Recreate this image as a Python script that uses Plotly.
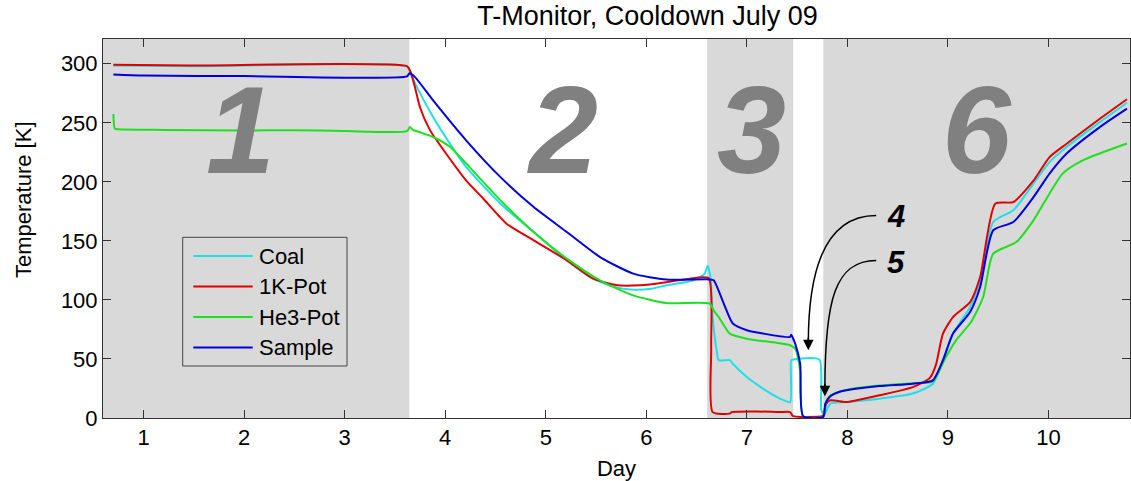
import plotly.graph_objects as go

# ---- measured temperatures (day, kelvin) ----
coal_day = [0.70, 1.50, 3.62, 3.65, 3.72, 3.88, 4.05, 4.21, 4.55, 4.88, 5.21, 5.47, 5.71, 5.87,
            6.05, 6.20, 6.47, 6.58, 6.61, 6.64, 6.66, 6.70, 6.72, 6.83, 6.86, 7.00, 7.16, 7.33,
            7.43, 7.44, 7.46, 7.72, 7.74, 7.77, 7.83, 7.99, 8.32, 8.65, 8.85, 8.95, 9.05, 9.22,
            9.32, 9.45, 9.65, 9.85, 10.01, 10.18, 10.51, 10.78]
coal_temp = [298.5, 298.0, 297.8, 293.0, 280.0, 255.0, 232.0, 212.5, 181.5, 157.5, 133.5, 118.0,
             110.4, 108.7, 109.5, 112.4, 116.6, 122.0, 129.0, 118.0, 85.0, 57.0, 49.0, 49.0, 46.0,
             34.7, 24.9, 16.4, 13.5, 48.9, 49.5, 49.5, 6.5, 3.0, 12.2, 13.5, 16.4, 20.7, 29.0,
             48.9, 71.5, 94.0, 116.6, 166.0, 175.9, 198.5, 216.8, 229.5, 250.6, 267.0]

pot1k_day = [0.70, 1.46, 3.62, 3.65, 3.70, 3.75, 3.85, 3.95, 4.21, 4.38, 4.61, 4.88, 5.21, 5.47,
             5.71, 5.94, 6.20, 6.43, 6.62, 6.645, 6.66, 6.83, 6.85, 7.10, 7.33, 7.43, 7.46, 7.75,
             7.76, 7.79, 7.83, 7.99, 8.09, 8.32, 8.65, 8.82, 8.88, 8.95, 9.05, 9.22, 9.32, 9.47,
             9.65, 9.85, 10.01, 10.18, 10.51, 10.78]
pot1k_temp = [299.2, 298.6, 298.0, 294.4, 280.0, 263.0, 243.6, 231.0, 201.0, 185.7, 164.6, 150.5,
              133.5, 118.0, 112.4, 112.4, 115.0, 118.0, 118.5, 60.0, 5.0, 3.7, 5.0, 5.5, 5.0, 5.0,
              1.5, 1.5, 2.3, 12.2, 15.0, 13.5, 15.0, 19.2, 26.2, 34.0, 45.0, 71.5, 85.5, 98.2,
              119.4, 181.5, 182.9, 201.0, 221.0, 232.3, 253.5, 270.0]

he3_day = [0.70, 0.715, 0.75, 1.20, 2.00, 2.50, 3.00, 3.62, 3.65, 3.68, 3.75, 3.88, 4.05, 4.21,
           4.55, 4.88, 5.21, 5.54, 5.87, 6.20, 6.63, 6.67, 6.73, 6.83, 7.00, 7.43, 7.48, 7.53,
           7.56, 7.76, 7.78, 7.83, 8.00, 8.32, 8.65, 8.85, 8.98, 9.08, 9.23, 9.35, 9.45, 9.68,
           9.85, 10.14, 10.34, 10.78]
he3_temp = [257.5, 245.0, 244.5, 244.0, 243.5, 243.8, 243.0, 243.0, 246.4, 244.0, 242.0, 238.0,
            229.5, 215.4, 184.3, 157.5, 135.0, 116.6, 103.9, 97.4, 96.9, 91.2, 84.2, 71.5, 67.2,
            61.6, 58.8, 40.0, 1.5, 1.0, 12.0, 19.0, 24.0, 27.5, 29.5, 31.0, 51.7, 65.8, 81.3,
            102.5, 139.2, 149.0, 167.4, 207.0, 218.2, 232.5]

sample_day = [0.70, 1.00, 2.00, 3.62, 3.645, 3.70, 3.88, 4.21, 4.55, 4.88, 5.21, 5.54, 5.87, 6.20,
              6.63, 6.67, 6.77, 6.86, 7.00, 7.16, 7.43, 7.44, 7.48, 7.53, 7.56, 7.76, 7.78, 7.83,
              7.93, 7.99, 8.32, 8.65, 8.85, 8.95, 9.05, 9.22, 9.32, 9.45, 9.65, 9.85, 10.01,
              10.18, 10.51, 10.78]
sample_temp = [291.0, 290.0, 289.6, 289.3, 292.0, 288.7, 269.0, 235.0, 204.0, 178.7, 157.5, 136.3,
               122.3, 117.2, 117.4, 116.6, 96.9, 80.0, 74.3, 71.5, 68.6, 70.5, 63.0, 46.0, 1.5,
               1.0, 12.0, 18.5, 22.5, 23.5, 27.0, 29.1, 31.9, 48.9, 71.5, 89.8, 111.0, 159.0,
               166.0, 187.0, 207.0, 224.0, 246.4, 262.0]

series_names = ["Coal", "1K-Pot", "He3-Pot", "Sample"]
series_colors = ["#1ee0e6", "#e00000", "#1ee01e", "#0000e0"]

# ---- cooldown phases ----
phase_labels = ["1", "2", "3", "6"]
phase_label_day = [1.96, 5.17, 7.05, 9.29]
phase_label_temp = [244, 244, 244, 244]
shaded_start = [0.597, 6.605, 7.76]
shaded_end = [3.644, 7.461, 10.81]

x_range = [0.597, 10.81]
y_range = [0, 321]
x_ticks = list(range(1, 11))
y_ticks = [0, 50, 100, 150, 200, 250, 300]

FONT = "Liberation Sans, Arial, Helvetica, sans-serif"
W, H = 1131, 481
M_L, M_R, M_T, M_B = 103, 1, 39, 63
PW, PH = W - M_L - M_R, H - M_T - M_B


def px_x(p):
    """horizontal pixel -> paper fraction"""
    return (p - M_L) / PW


def px_y(p):
    """vertical pixel (from top) -> paper fraction"""
    return (H - M_B - p) / PH


fig = go.Figure()
all_days = [coal_day, pot1k_day, he3_day, sample_day]
all_temps = [coal_temp, pot1k_temp, he3_temp, sample_temp]
for name, d, t, c in zip(series_names, all_days, all_temps, series_colors):
    fig.add_trace(go.Scatter(x=d, y=t, mode="lines", name=name, showlegend=False,
                             line=dict(color=c, width=2, shape="spline", smoothing=0.6)))

shapes = []
for x0, x1 in zip(shaded_start, shaded_end):
    shapes.append(dict(type="rect", xref="x", yref="paper", x0=x0, x1=x1, y0=0, y1=1,
                       fillcolor="#d9d9d9", line=dict(width=0), layer="below"))

# curved pointers for the short phases 4 and 5
shapes.append(dict(type="path", xref="x", yref="y",
                   path="M 8.286,171.6 C 7.826,171.6 7.611,133.5 7.611,63.3",
                   line=dict(color="black", width=1.5)))
shapes.append(dict(type="path", xref="x", yref="y",
                   path="M 8.286,133.5 C 7.876,133.5 7.776,99.7 7.776,25.1",
                   line=dict(color="black", width=1.5)))

annotations = []
for lab, d, t in zip(phase_labels, phase_label_day, phase_label_temp):
    annotations.append(dict(x=d, y=t, xref="x", yref="y", text=lab, showarrow=False,
                            xanchor="center", yanchor="middle",
                            font=dict(family=FONT, size=124, color="#808080",
                                      weight="bold", style="italic")))
for lab, t in [("4", 170.8), ("5", 131.8)]:
    annotations.append(dict(x=8.482, y=t, xref="x", yref="y", text=lab, showarrow=False,
                            xanchor="center", yanchor="middle",
                            font=dict(family=FONT, size=31, color="black",
                                      weight="bold", style="italic")))
for d, t in [(7.611, 57.3), (7.776, 18.4)]:
    annotations.append(dict(x=d, y=t, xref="x", yref="y", text="", showarrow=True,
                            ax=0, ay=-14, arrowhead=2, arrowsize=1.4, arrowwidth=1.5,
                            arrowcolor="black"))

# legend box drawn with long line samples
shapes.append(dict(type="rect", xref="paper", yref="paper",
                   x0=px_x(182.7), x1=px_x(347), y0=px_y(366), y1=px_y(237.3),
                   fillcolor="#d9d9d9", line=dict(color="#444444", width=1)))
for i, (name, c) in enumerate(zip(series_names, series_colors)):
    row = 256 + 30.5 * i
    shapes.append(dict(type="line", xref="paper", yref="paper",
                       x0=px_x(193.3), x1=px_x(252.7), y0=px_y(row), y1=px_y(row),
                       line=dict(color=c, width=2)))
    annotations.append(dict(x=px_x(256.5), y=px_y(row), xref="paper", yref="paper",
                            text=name, showarrow=False, xanchor="left", yanchor="middle",
                            font=dict(family=FONT, size=22, color="black")))

# y-axis title
annotations.append(dict(x=px_x(23), y=px_y(200), xref="paper", yref="paper",
                        text="Temperature [K]", showarrow=False, textangle=-90,
                        xanchor="center", yanchor="middle",
                        font=dict(family=FONT, size=22, color="black")))

axis_common = dict(showline=True, linecolor="#333333", linewidth=1, mirror="ticks",
                   ticks="inside", ticklen=8, tickcolor="#333333", showgrid=False,
                   zeroline=False, tickfont=dict(family=FONT, size=22, color="black"))

fig.update_layout(
    width=W, height=H,
    margin=dict(l=M_L, r=M_R, t=M_T, b=M_B),
    paper_bgcolor="white", plot_bgcolor="white",
    showlegend=False,
    title=dict(text="T-Monitor, Cooldown July 09", x=0.5725, xanchor="center",
               y=0.967, yanchor="middle", yref="container",
               font=dict(family=FONT, size=27, color="black")),
    xaxis=dict(range=x_range, tickvals=x_ticks,
               title=dict(text="Day", font=dict(family=FONT, size=22, color="black")),
               **axis_common),
    yaxis=dict(range=y_range, tickvals=y_ticks, **axis_common),
    shapes=shapes,
    annotations=annotations,
)

fig.write_html("out.html")
